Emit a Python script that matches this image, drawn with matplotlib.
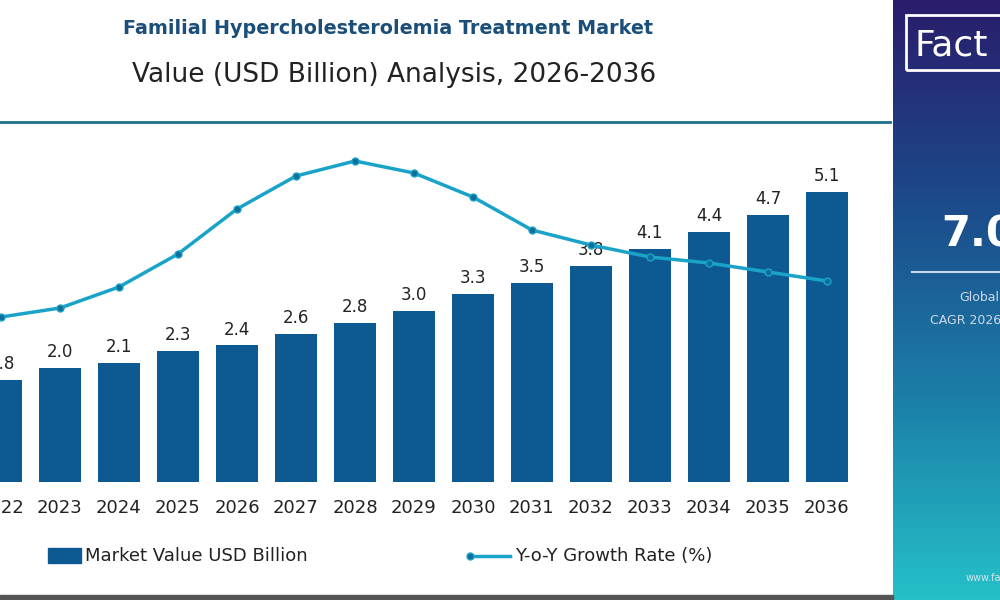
import matplotlib
matplotlib.use("Agg")
import matplotlib.pyplot as plt
import numpy as np
from matplotlib.patches import Rectangle
from matplotlib.colors import LinearSegmentedColormap

years = ["2022","2023","2024","2025","2026","2027","2028","2029","2030","2031","2032","2033","2034","2035","2036"]
market_value = [1.8,2.0,2.1,2.3,2.4,2.6,2.8,3.0,3.3,3.5,3.8,4.1,4.4,4.7,5.1]
growth = [5.5,5.8,6.5,7.6,9.1,10.2,10.7,10.3,9.5,8.4,7.9,7.5,7.3,7.0,6.7]

W, H = 1000, 600
fig = plt.figure(figsize=(10, 6), dpi=100)
fig.patch.set_facecolor("white")
bar_color = "#0d5a93"
line_color = "#1aa3c9"

ax = fig.add_axes([0, 1-482/H, 890/W, 360/H])
x = np.arange(len(years))
ax.bar(x, market_value, width=0.71, color=bar_color, zorder=2)
for xi, v in zip(x, market_value):
    ax.text(xi, v + 0.12, f"{v:.1f}", ha="center", va="bottom", fontsize=12, color="#222222", zorder=5)
ax.set_xlim(-0.017, 15.07)
ax.set_ylim(0, 360/56.9)
ax.set_xticks(x)
ax.set_xticklabels(years, fontsize=13, color="#222222")
ax.tick_params(axis="x", length=0, pad=12)
ax.set_yticks([])
for s in ax.spines.values():
    s.set_visible(False)
ax.set_facecolor("none")

ax2 = ax.twinx()
ax2.plot(x, growth, color=line_color, lw=2.5, marker="o", markersize=5,
         markerfacecolor="#0d6f9a", markeredgecolor=line_color, zorder=4)
ax2.set_ylim(0, 12)
ax2.set_yticks([])
for s in ax2.spines.values():
    s.set_visible(False)

fig.add_artist(plt.Line2D([0, 890/W], [1-122/H, 1-122/H], color="#1f6f8b", lw=2))
fig.text(388/W, 1-28/H, "Familial Hypercholesterolemia Treatment Market", ha="center", va="center",
         fontsize=13.8, fontweight="bold", color="#1b4f7a")
fig.text(394/W, 1-75/H, "Value (USD Billion) Analysis, 2026-2036", ha="center", va="center",
         fontsize=19, color="#222222")

fig.add_artist(Rectangle((48/W, 1-563/H), 33/W, 15/H, color=bar_color))
fig.text(85/W, 1-556/H, "Market Value USD Billion", va="center", fontsize=13, color="#222222")
fig.add_artist(plt.Line2D([470/W, 510/W], [1-556/H, 1-556/H], color=line_color, lw=2.5,
                          marker="o", markersize=5, markevery=[0], markerfacecolor="#0d6f9a"))
fig.text(515/W, 1-556/H, "Y-o-Y Growth Rate (%)", va="center", fontsize=13, color="#222222")

pax = fig.add_axes([893/W, 0, 107/W, 1])
grad = np.linspace(0, 1, 256).reshape(-1, 1)
cmap = LinearSegmentedColormap.from_list("p", ["#2a1d6b", "#1c4a8a", "#1b7fa8", "#25c0c8"])
pax.imshow(grad, aspect="auto", cmap=cmap, extent=[0, 1, 0, 1], origin="upper")
pax.set_xlim(0, 1); pax.set_ylim(0, 1); pax.axis("off")
pax.add_patch(Rectangle((0.12, 1-70/H), 1.0, 55/H, facecolor="none", edgecolor="white", lw=2))
pax.text(0.2, 1-45/H, "Fact", fontsize=26, color="white", va="center")
pax.text(0.45, 1-235/H, "7.0", fontsize=30, fontweight="bold", color="white", va="center")
pax.plot([0.18, 1.0], [1-272/H, 1-272/H], color="#c8d8e8", lw=1.5)
pax.text(0.62, 1-298/H, "Global", fontsize=9, color="#d0d8e8", va="center")
pax.text(0.35, 1-320/H, "CAGR 2026", fontsize=9, color="#d0d8e8", va="center")
pax.text(0.68, 1-578/H, "www.fact", fontsize=7, color="#d0e8ee", va="center")

fig.add_artist(Rectangle((0, 0), 893/W, 5/H, color="#555555"))

fig.savefig("out.png", dpi=100)
